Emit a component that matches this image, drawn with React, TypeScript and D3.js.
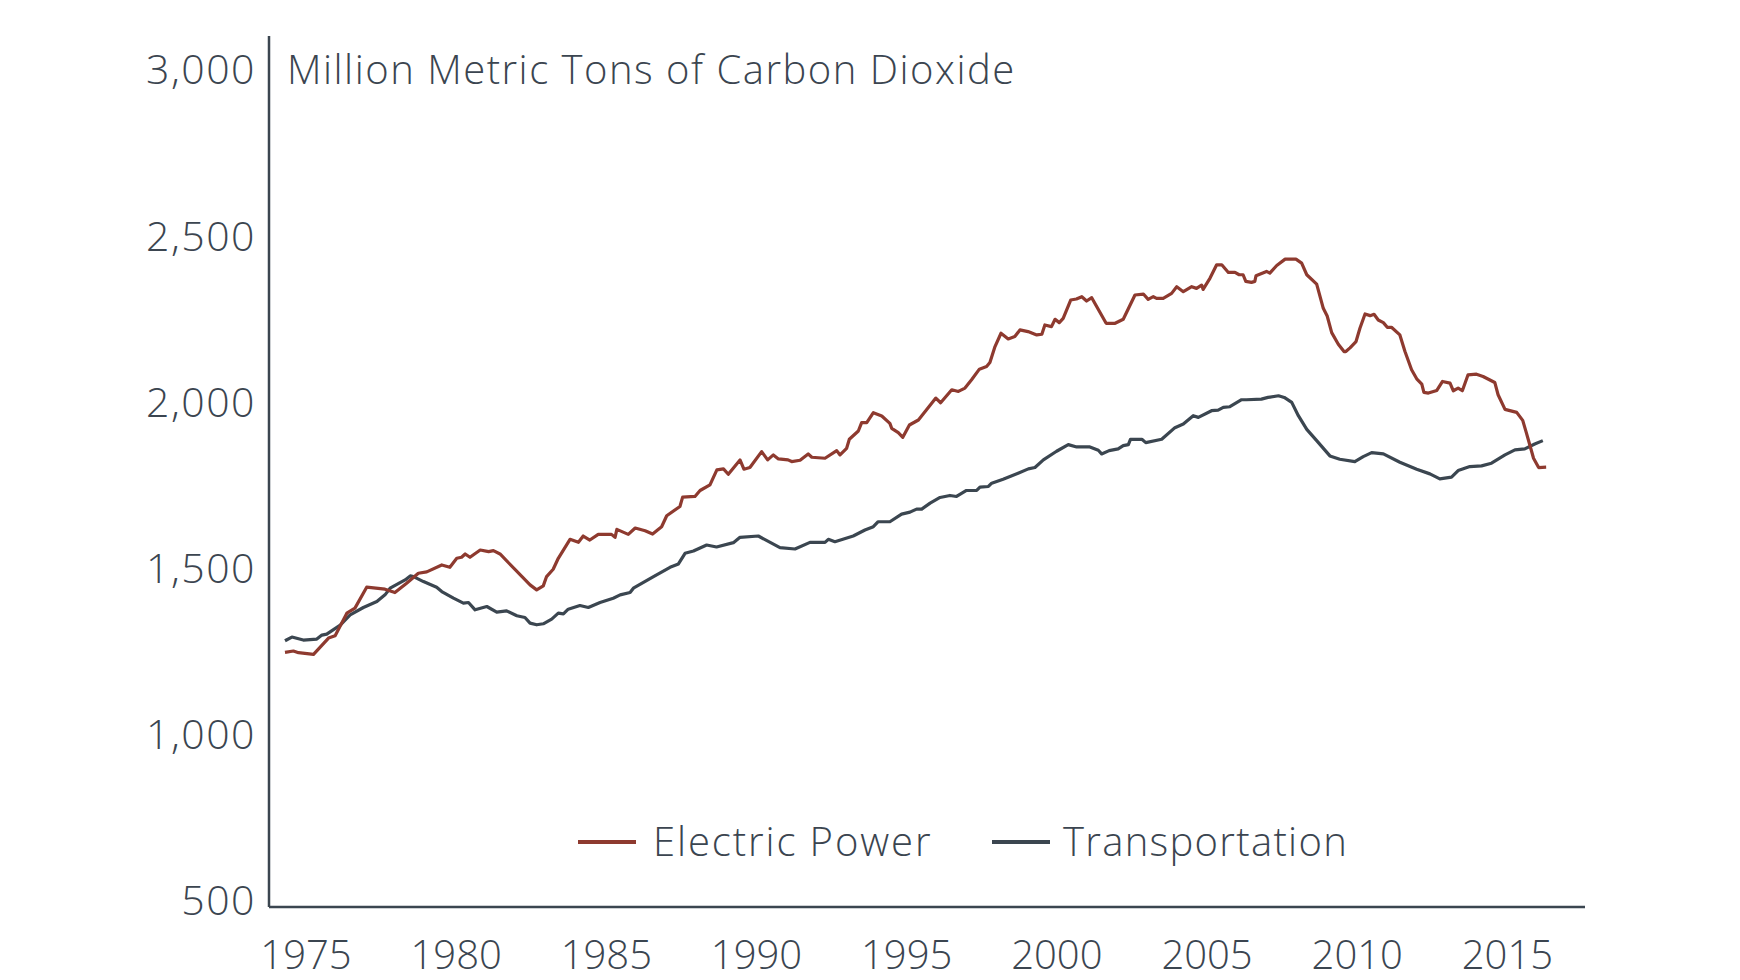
import React from "react";
import * as d3 from "d3";

const electricYears = [1974.30,1974.58,1974.75,1975.25,1975.75,1975.97,1976.36,1976.63,1977.02,1977.63,1977.96,1978.35,1978.74,1979.02,1979.52,1979.79,1980.02,1980.18,1980.30,1980.46,1980.80,1981.08,1981.24,1981.46,1982.46,1982.68,1982.90,1983.01,1983.23,1983.40,1983.79,1984.07,1984.23,1984.45,1984.73,1985.17,1985.29,1985.35,1985.73,1985.96,1986.29,1986.54,1986.84,1987.01,1987.45,1987.54,1987.95,1988.12,1988.45,1988.68,1988.90,1989.06,1989.45,1989.58,1989.78,1990.17,1990.37,1990.56,1990.73,1991.05,1991.17,1991.45,1991.72,1991.84,1992.28,1992.67,1992.78,1993.00,1993.09,1993.39,1993.50,1993.67,1993.89,1994.17,1994.44,1994.50,1994.72,1994.87,1995.09,1995.39,1995.97,1996.13,1996.50,1996.72,1996.94,1997.16,1997.42,1997.66,1997.77,1997.94,1998.14,1998.38,1998.60,1998.77,1999.04,1999.33,1999.50,1999.60,1999.82,1999.94,2000.08,2000.21,2000.46,2000.65,2000.83,2000.99,2001.16,2001.64,2001.94,2002.21,2002.60,2002.88,2003.04,2003.21,2003.32,2003.54,2003.82,2003.99,2004.21,2004.49,2004.65,2004.82,2004.87,2005.10,2005.32,2005.49,2005.71,2005.93,2006.07,2006.20,2006.29,2006.48,2006.59,2006.63,2006.98,2007.09,2007.32,2007.60,2007.96,2008.15,2008.32,2008.65,2008.87,2009.00,2009.15,2009.37,2009.56,2009.62,2009.76,2009.96,2010.09,2010.26,2010.43,2010.56,2010.70,2010.87,2011.00,2011.14,2011.42,2011.59,2011.81,2011.98,2012.15,2012.22,2012.37,2012.65,2012.84,2013.09,2013.20,2013.36,2013.50,2013.69,2013.97,2014.19,2014.58,2014.69,2014.92,2015.31,2015.51,2015.62,2015.73,2015.87,2016.04,2016.29];
const electricValues = [1248,1252,1247,1242,1291,1298,1366,1381,1444,1438,1428,1456,1486,1490,1511,1504,1531,1534,1544,1534,1556,1551,1554,1544,1451,1436,1448,1476,1498,1531,1588,1579,1598,1586,1603,1603,1594,1618,1603,1622,1614,1604,1626,1659,1687,1715,1717,1735,1752,1797,1800,1784,1827,1799,1804,1852,1827,1842,1830,1827,1822,1826,1845,1835,1832,1855,1842,1862,1889,1914,1939,1939,1969,1959,1937,1922,1909,1895,1932,1947,2013,1999,2038,2033,2043,2068,2100,2108,2120,2168,2208,2191,2198,2218,2213,2203,2205,2233,2228,2250,2240,2253,2308,2311,2318,2305,2315,2238,2238,2250,2323,2326,2310,2318,2313,2313,2328,2348,2333,2348,2343,2353,2340,2374,2414,2414,2391,2391,2384,2384,2364,2361,2364,2381,2394,2389,2412,2431,2431,2419,2384,2356,2283,2260,2210,2175,2153,2153,2164,2183,2223,2266,2261,2265,2248,2240,2226,2226,2203,2153,2098,2071,2055,2030,2028,2036,2063,2058,2035,2043,2035,2083,2085,2078,2060,2023,1979,1970,1946,1912,1877,1832,1804,1805];

const transportYears = [1974.30,1974.53,1974.91,1975.36,1975.53,1975.69,1976.14,1976.47,1976.91,1977.36,1977.63,1977.80,1978.30,1978.47,1978.58,1978.91,1979.35,1979.52,1979.91,1980.24,1980.41,1980.63,1981.02,1981.35,1981.68,1982.02,1982.29,1982.46,1982.68,1982.90,1983.18,1983.40,1983.57,1983.73,1984.12,1984.40,1984.79,1985.23,1985.46,1985.79,1985.90,1986.57,1987.12,1987.40,1987.62,1987.90,1988.34,1988.67,1989.23,1989.45,1990.06,1990.78,1991.28,1991.78,1992.28,1992.39,1992.61,1993.22,1993.61,1993.89,1994.05,1994.44,1994.83,1995.11,1995.33,1995.50,1995.78,1996.11,1996.44,1996.66,1996.99,1997.33,1997.44,1997.72,1997.83,1998.21,1998.71,1999.05,1999.27,1999.55,1999.99,2000.38,2000.66,2001.10,2001.38,2001.49,2001.74,2002.04,2002.21,2002.38,2002.45,2002.83,2002.96,2003.49,2003.93,2004.21,2004.54,2004.71,2005.15,2005.37,2005.54,2005.76,2006.15,2006.31,2006.81,2007.03,2007.38,2007.57,2007.82,2008.04,2008.32,2008.65,2009.09,2009.42,2009.92,2010.20,2010.48,2010.87,2011.42,2011.98,2012.42,2012.75,2013.14,2013.36,2013.75,2014.14,2014.47,2014.92,2015.25,2015.58,2015.91,2016.18];
const transportValues = [1283,1294,1285,1288,1300,1303,1330,1361,1383,1401,1421,1441,1466,1478,1476,1461,1444,1431,1411,1396,1398,1376,1386,1369,1373,1358,1353,1336,1331,1334,1348,1366,1364,1378,1389,1383,1398,1411,1421,1428,1441,1476,1504,1514,1546,1553,1571,1565,1578,1594,1598,1563,1559,1579,1579,1588,1581,1598,1616,1626,1641,1641,1664,1670,1679,1679,1697,1714,1720,1717,1735,1735,1745,1747,1757,1769,1787,1800,1804,1827,1853,1873,1866,1866,1856,1845,1855,1860,1870,1873,1889,1889,1879,1889,1924,1935,1960,1955,1975,1977,1985,1987,2008,2008,2010,2015,2020,2015,2000,1960,1919,1885,1839,1829,1822,1837,1849,1845,1820,1799,1785,1770,1775,1795,1807,1809,1817,1842,1857,1860,1875,1885];

const yTicks = [500, 1000, 1500, 2000, 2500, 3000];
const xTicks = [1975, 1980, 1985, 1990, 1995, 2000, 2005, 2010, 2015];
const seriesNames = ["Electric Power", "Transportation"];
const unitLabel = "Million Metric Tons of Carbon Dioxide";

const RED = "#8e3a2f";
const DARK = "#3b4650";
const TEXT = "#3b4550";
const FONT = "'Open Sans', 'Noto Sans', sans-serif";

export default function App() {
  const W = 1740, H = 980;
  const x = d3.scaleLinear().domain([1975, 2015]).range([306, 1507.4]);
  const y = d3.scaleLinear().domain([500, 3000]).range([901, 70]);
  const axisX = 269, axisTop = 36, axisBottom = 907, axisRight = 1585;

  const line = d3.line<[number, number]>().x(d => x(d[0])).y(d => y(d[1]));
  const elec = electricYears.map((yr, i) => [yr, electricValues[i]] as [number, number]);
  const trans = transportYears.map((yr, i) => [yr, transportValues[i]] as [number, number]);
  const ls = 1.5;

  return (
    <svg width={W} height={H} style={{ position: "absolute", left: 0, top: 0, background: "#fff" }} fontFamily={FONT}>
      <rect width={W} height={H} fill="#fff" />
      <line x1={axisX} x2={axisX} y1={axisTop} y2={axisBottom} stroke={DARK} strokeWidth={2.5} />
      <line x1={axisX} x2={axisRight} y1={axisBottom} y2={axisBottom} stroke={DARK} strokeWidth={2.5} />
      {yTicks.map(t => (
        <text key={t} x={256} y={y(t)} dy="0.35em" textAnchor="end" fontSize={41} fontWeight={300} letterSpacing={ls} fill={TEXT}>
          {d3.format(",")(t)}
        </text>
      ))}
      {xTicks.map(t => (
        <text key={t} x={x(t)} y={955} dy="0.35em" textAnchor="middle" fontSize={40} fontWeight={300} fill={TEXT}>
          {t}
        </text>
      ))}
      <text x={287} y={y(3000)} dy="0.35em" fontSize={40} fontWeight={300} letterSpacing={ls} fill={TEXT}>{unitLabel}</text>
      <path d={line(trans) || ""} fill="none" stroke={DARK} strokeWidth={3.2} strokeLinejoin="round" />
      <path d={line(elec) || ""} fill="none" stroke={RED} strokeWidth={3.2} strokeLinejoin="round" />
      <g>
        <line x1={578} x2={636} y1={842} y2={842} stroke={RED} strokeWidth={4} />
        <text x={653} y={842} dy="0.35em" fontSize={40} fontWeight={300} letterSpacing={1.9} fill={TEXT}>{seriesNames[0]}</text>
        <line x1={992} x2={1050} y1={842} y2={842} stroke={DARK} strokeWidth={4} />
        <text x={1063} y={842} dy="0.35em" fontSize={40} fontWeight={300} letterSpacing={1.3} fill={TEXT}>{seriesNames[1]}</text>
      </g>
    </svg>
  );
}
